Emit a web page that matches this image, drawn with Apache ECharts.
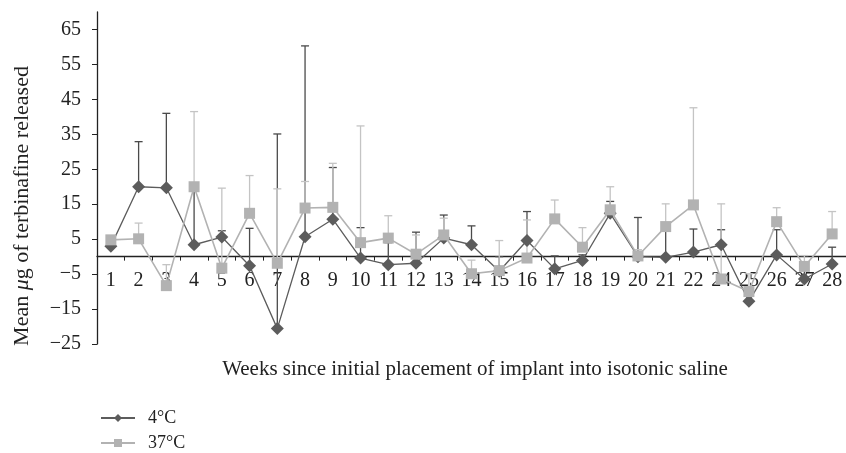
<!DOCTYPE html>
<html>
<head>
<meta charset="utf-8">
<script src="https://cdn.jsdelivr.net/npm/echarts@6/dist/echarts.min.js"></script>
<style>
    html, body { margin: 0; padding: 0; background: #fff; }
    #chart { width: 846px; height: 453px; }
</style>
</head>
<body>
<div id="chart"></div>
<script>
// weeks (week 23 has no measurement)
var weeks = ['1', '2', '3', '4', '5', '6', '7', '8', '9', '10', '11', '12', '13', '14',
    '15', '16', '17', '18', '19', '20', '21', '22', '24', '25', '26', '27', '28'];

// 4 °C mean and top of error bar
var coldMean = [3.0, 20.0, 19.7, 3.4, 5.6, -2.6, -20.6, 5.7, 10.7, -0.4, -2.3, -1.9, 5.3, 3.4,
    -4.2, 4.6, -3.5, -1.1, 12.4, 0.0, -0.2, 1.3, 3.4, -12.8, 0.5, -6.4, -2.1];
var coldErrTop = [3.0, 32.9, 41.0, 20.0, 7.4, 8.1, 35.1, 60.3, 25.5, 8.3, 4.0, 7.0, 11.9, 8.8,
    0.0, 12.9, 0.2, 0.5, 15.8, 11.2, 8.0, 7.9, 7.7, -12.8, 7.7, -3.0, 2.7];

// 37 °C mean and top of error bar
var warmMean = [4.8, 5.1, -8.3, 20.0, -3.3, 12.4, -1.9, 13.9, 14.1, 4.0, 5.3, 0.7, 6.2, -4.9,
    -4.0, -0.4, 10.8, 2.7, 13.4, 0.2, 8.6, 14.8, -6.4, -10.0, 10.0, -2.8, 6.5];
var warmErrTop = [4.8, 9.6, -2.3, 41.5, 19.6, 23.2, 19.4, 21.5, 26.7, 37.4, 11.7, 6.2, 11.0, -1.0,
    4.6, 10.5, 16.2, 8.3, 20.0, 2.0, 15.1, 42.6, 15.1, -4.9, 14.0, 0.3, 12.9];

var FONT = '"Liberation Serif", "DejaVu Serif", serif';
var DARK = '#5c5c5c';
var LIGHT = '#b2b2b2';

function errData(mean, top) {
    var out = [];
    for (var i = 0; i < mean.length; i++) {
        out.push([i, mean[i], top[i]]);
    }
    return out;
}

function errRender(color) {
    return function (params, api) {
        var x = api.value(0);
        var lo = api.coord([x, api.value(1)]);
        var hi = api.coord([x, api.value(2)]);
        if (hi[1] >= lo[1] - 0.5) {
            return null;
        }
        var cap = 4;
        return {
            type: 'group',
            children: [{
                type: 'line',
                shape: {x1: lo[0], y1: lo[1], x2: hi[0], y2: hi[1]},
                style: {stroke: color, lineWidth: 1.3}
            }, {
                type: 'line',
                shape: {x1: hi[0] - cap, y1: hi[1], x2: hi[0] + cap, y2: hi[1]},
                style: {stroke: color, lineWidth: 1.3}
            }]
        };
    };
}

var chart = echarts.init(document.getElementById('chart'));
var option = {
    animation: false,
    textStyle: {fontFamily: FONT},
    grid: {left: 97, right: -4, top: 12, bottom: 109},
    legend: {
        orient: 'vertical',
        left: 95,
        top: 404,
        height: 60,
        itemWidth: 34,
        itemHeight: 10,
        itemGap: 7,
        textStyle: {fontFamily: FONT, fontSize: 18, color: '#222', padding: [0, 0, 0, 8]},
        data: ['4°C', '37°C']
    },
    xAxis: {
        type: 'category',
        data: weeks,
        boundaryGap: true,
        axisLine: {onZero: false, lineStyle: {color: '#222', width: 1.3}},
        axisTick: {show: true, length: 4, inside: false, lineStyle: {color: '#222'}},
        axisLabel: {fontFamily: FONT, fontSize: 20, color: '#222', margin: 14, interval: 0}
    },
    yAxis: {
        type: 'value',
        min: -25,
        max: 70,
        interval: 10,
        splitLine: {show: false},
        axisLine: {show: true, lineStyle: {color: '#222', width: 1.3}},
        axisTick: {show: true, length: 5, lineStyle: {color: '#222'}},
        axisLabel: {
            fontFamily: FONT, fontSize: 20, color: '#222', margin: 16, showMaxLabel: false,
            formatter: function (v) { return String(v).replace('-', '\u2212'); }
        }
    },
    graphic: [{
        type: 'text',
        x: 475,
        y: 369,
        style: {
            text: 'Weeks since initial placement of implant into isotonic saline',
            font: '21px ' + FONT,
            fill: '#222',
            align: 'center',
            verticalAlign: 'middle'
        }
    }, {
        type: 'text',
        x: 22,
        y: 206,
        rotation: Math.PI / 2,
        style: {
            text: 'Mean {i|\u03bc}g of terbinafine released',
            font: '22px ' + FONT,
            fill: '#222',
            align: 'center',
            verticalAlign: 'middle',
            rich: {i: {fontStyle: 'italic', fontSize: 22, fontFamily: FONT, fill: '#222'}}
        }
    }],
    series: [{
        name: '4°C err',
        type: 'custom',
        renderItem: errRender('#4a4a4a'),
        data: errData(coldMean, coldErrTop),
        z: 1
    }, {
        name: '37°C err',
        type: 'custom',
        renderItem: errRender('#c4c4c4'),
        data: errData(warmMean, warmErrTop),
        z: 1
    }, {
        name: '4°C',
        type: 'line',
        data: coldMean,
        symbol: 'diamond',
        symbolSize: 13,
        itemStyle: {color: DARK},
        lineStyle: {color: DARK, width: 1.3},
        z: 3
    }, {
        name: '37°C',
        type: 'line',
        data: warmMean,
        symbol: 'rect',
        symbolSize: 11,
        itemStyle: {color: LIGHT},
        lineStyle: {color: LIGHT, width: 1.6},
        z: 4
    }]
};
chart.setOption(option);

// move the category axis (line, ticks, labels) up to y = 0
var zeroY = chart.convertToPixel({yAxisIndex: 0}, 0);
var baseY = chart.convertToPixel({yAxisIndex: 0}, -25);
chart.setOption({xAxis: {offset: zeroY - baseY}});
</script>
</body>
</html>
